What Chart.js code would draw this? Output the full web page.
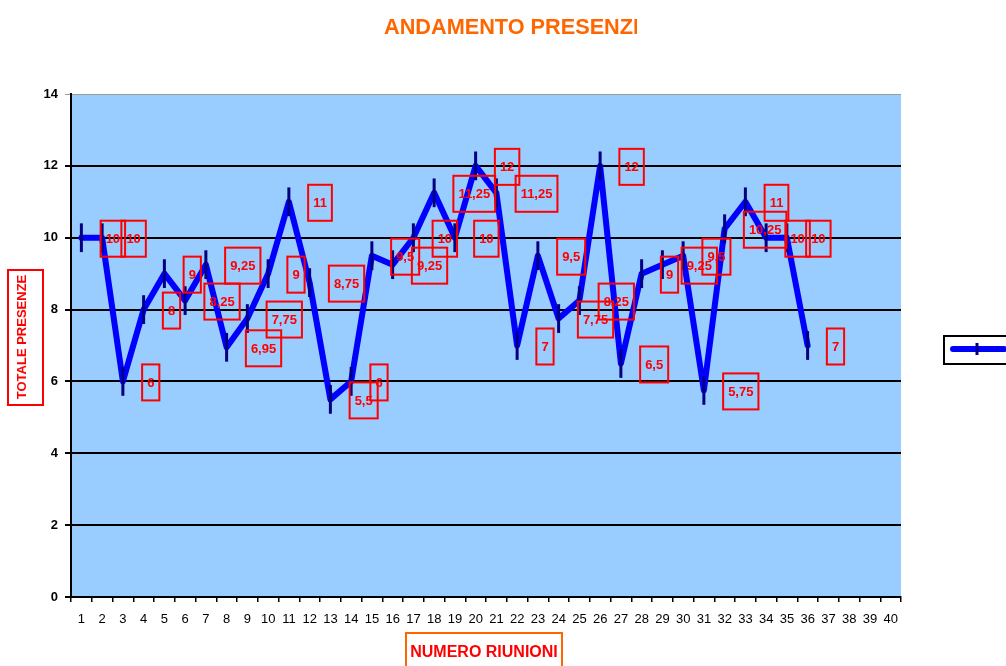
<!DOCTYPE html>
<html>
<head>
<meta charset="utf-8">
<script src="https://cdn.jsdelivr.net/npm/chart.js@4.4.0/dist/chart.umd.min.js"></script>
<style>
  html, body { margin: 0; padding: 0; background: #fff; }
  canvas { display: block; }
</style>
</head>
<body>
<canvas id="myChart" width="1006" height="666"></canvas>
<script>
const FONT = 'Arial, "Liberation Sans", sans-serif';

// numero riunione (asse x)
const riunioni = ['1', '2', '3', '4', '5', '6', '7', '8', '9', '10',
  '11', '12', '13', '14', '15', '16', '17', '18', '19', '20',
  '21', '22', '23', '24', '25', '26', '27', '28', '29', '30',
  '31', '32', '33', '34', '35', '36', '37', '38', '39', '40'];

// totale presenze per riunione
const presenze = [10, 10, 6, 8, 9, 8.25, 9.25, 6.95, 7.75, 9,
  11, 8.75, 5.5, 6, 9.5, 9.25, 10, 11.25, 10, 12,
  11.25, 7, 9.5, 7.75, 8.25, 12, 6.5, 9, 9.25, 9.5,
  5.75, 10.25, 11, 10, 10, 7];

// barra di errore fissa (come in Excel)
const errore = 0.4;

const yMin = 0;
const yMax = 14;
const yPasso = 2;

const titolo = 'ANDAMENTO PRESENZE';
const titoloY = 'TOTALE PRESENZE';
const titoloX = 'NUMERO RIUNIONI';

// sfondo area del grafico
const sfondo = {
  id: 'sfondo',
  beforeDraw(chart) {
    const { ctx, chartArea } = chart;
    ctx.save();
    ctx.fillStyle = '#FFFFFF';
    ctx.fillRect(0, 0, chart.width, chart.height);
    ctx.fillStyle = '#99CCFF';
    ctx.fillRect(chartArea.left, chartArea.top, chartArea.right - chartArea.left, chartArea.bottom - chartArea.top);
    ctx.restore();
  },
};

// barre di errore + etichette dei valori
const valori = {
  id: 'valori',
  afterDatasetsDraw(chart) {
    const { ctx } = chart;
    const meta = chart.getDatasetMeta(0);
    const sx = chart.scales.x;
    const sy = chart.scales.y;
    const passo = sx.getPixelForValue(1) - sx.getPixelForValue(0);

    ctx.save();
    ctx.strokeStyle = '#000080';
    ctx.lineWidth = 3;
    meta.data.forEach((pt, i) => {
      ctx.beginPath();
      ctx.moveTo(pt.x, sy.getPixelForValue(presenze[i] + errore));
      ctx.lineTo(pt.x, sy.getPixelForValue(presenze[i] - errore));
      ctx.stroke();
    });

    ctx.font = 'bold 13px ' + FONT;
    ctx.textAlign = 'center';
    ctx.textBaseline = 'middle';
    meta.data.forEach((pt, i) => {
      const testo = String(presenze[i]).replace('.', ',');
      const w = ctx.measureText(testo).width + 10;
      const h = 36;
      const left = pt.x + passo - 1.5;
      const top = pt.y - h / 2 + 1;
      ctx.strokeStyle = '#FF0000';
      ctx.lineWidth = 2;
      ctx.strokeRect(left, top, w, h);
      ctx.fillStyle = '#FF0000';
      ctx.fillText(testo, left + w / 2, top + h / 2 + 1);
    });
    ctx.restore();
  },
};

// titolo, titoli degli assi, legenda
const decorazioni = {
  id: 'decorazioni',
  afterDraw(chart) {
    const { ctx } = chart;
    ctx.save();

    // titolo (tagliato come nell'originale)
    ctx.save();
    ctx.beginPath();
    ctx.rect(0, 0, 637, 60);
    ctx.clip();
    ctx.fillStyle = '#FF6600';
    ctx.font = 'bold 21.7px ' + FONT;
    ctx.textAlign = 'left';
    ctx.textBaseline = 'alphabetic';
    ctx.fillText(titolo, 384, 34);
    ctx.restore();

    // titolo asse y
    ctx.strokeStyle = '#FF0000';
    ctx.lineWidth = 2;
    ctx.strokeRect(8, 270, 35, 135);
    ctx.save();
    ctx.translate(22, 337);
    ctx.rotate(-Math.PI / 2);
    ctx.fillStyle = '#FF0000';
    ctx.font = 'bold 13px ' + FONT;
    ctx.textAlign = 'center';
    ctx.textBaseline = 'middle';
    ctx.fillText(titoloY, 0, 0);
    ctx.restore();

    // titolo asse x
    ctx.strokeStyle = '#FF6600';
    ctx.lineWidth = 2;
    ctx.strokeRect(406, 633, 156, 40);
    ctx.fillStyle = '#FF0000';
    ctx.font = 'bold 16px ' + FONT;
    ctx.textAlign = 'center';
    ctx.textBaseline = 'alphabetic';
    ctx.fillText(titoloX, 484, 657);

    // legenda (tagliata a destra)
    ctx.strokeStyle = '#000000';
    ctx.lineWidth = 2;
    ctx.strokeRect(944, 336, 80, 28);
    ctx.strokeStyle = '#0000FF';
    ctx.lineWidth = 6;
    ctx.lineCap = 'round';
    ctx.beginPath();
    ctx.moveTo(953, 349);
    ctx.lineTo(1004, 349);
    ctx.stroke();
    ctx.strokeStyle = '#000080';
    ctx.lineWidth = 3;
    ctx.lineCap = 'butt';
    ctx.beginPath();
    ctx.moveTo(977, 343);
    ctx.lineTo(977, 355);
    ctx.stroke();

    ctx.restore();
  },
};

const ctx = document.getElementById('myChart');

const chart = new Chart(ctx, {
  type: 'line',
  data: {
    labels: riunioni,
    datasets: [
      {
        label: 'Presenze',
        data: presenze,
        borderColor: '#0000FF',
        borderWidth: 6,
        borderJoinStyle: 'round',
        borderCapStyle: 'round',
        pointRadius: 0,
        tension: 0,
        fill: false,
      },
    ],
  },
  options: {
    responsive: false,
    animation: false,
    devicePixelRatio: 1,
    layout: {
      padding: { top: 94, right: 105, left: 0, bottom: 0 },
    },
    plugins: {
      legend: { display: false },
      title: { display: false },
      tooltip: { enabled: false },
    },
    scales: {
      x: {
        offset: true,
        grid: {
          offset: true,
          drawOnChartArea: false,
          color: '#000000',
          lineWidth: 1.5,
          tickLength: 5,
        },
        border: { color: '#000000', width: 2 },
        ticks: {
          color: '#000000',
          font: { family: FONT, size: 13 },
          padding: 10,
          maxRotation: 0,
          autoSkip: false,
        },
        afterFit: (s) => {
          s.height = 69;
        },
      },
      y: {
        min: yMin,
        max: yMax,
        ticks: {
          stepSize: yPasso,
          color: '#000000',
          font: { family: FONT, size: 13, weight: 'bold' },
          padding: 7,
        },
        grid: {
          color: (c) => (c.tick && c.tick.value === yMax ? '#9A9A9A' : '#000000'),
          lineWidth: (c) => (c.tick && c.tick.value === yMax ? 1 : 2),
          tickLength: 6,
        },
        border: { color: '#000000', width: 2 },
        afterFit: (s) => {
          s.width = 71;
        },
      },
    },
  },
  plugins: [sfondo, valori, decorazioni],
});
</script>
</body>
</html>
